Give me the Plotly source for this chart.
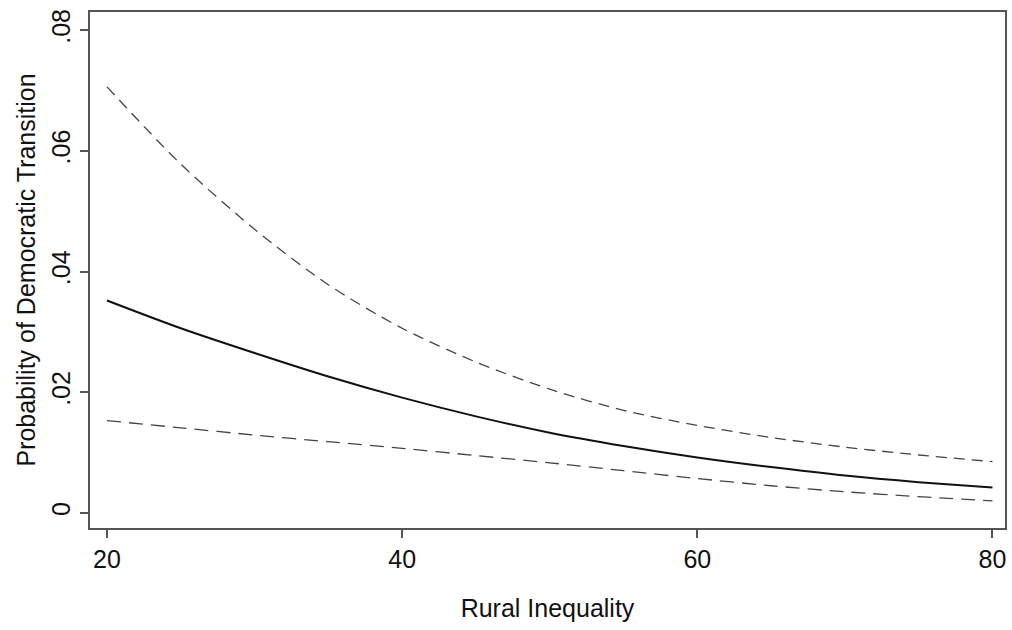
import plotly.graph_objects as go

x_vals = [20, 25, 30, 35, 40, 45, 50, 55, 60, 65, 70, 75, 80]
mean_vals = [0.0352, 0.0306, 0.0265, 0.0226, 0.0191, 0.0160, 0.0133, 0.0111, 0.0092, 0.0076, 0.0062, 0.0051, 0.0042]
upper_vals = [0.0706, 0.0578, 0.0470, 0.0378, 0.0306, 0.0250, 0.0205, 0.0170, 0.0145, 0.0125, 0.0109, 0.0096, 0.0085]
lower_vals = [0.0153, 0.0141, 0.0129, 0.0118, 0.0107, 0.0095, 0.0083, 0.0070, 0.0057, 0.0045, 0.0035, 0.0027, 0.0020]

x_ticks = [20, 40, 60, 80]
y_ticks = [0, 0.02, 0.04, 0.06, 0.08]
y_ticktext = ["0", ".02", ".04", ".06", ".08"]

fig = go.Figure()
fig.add_trace(go.Scatter(x=x_vals, y=upper_vals, mode="lines",
                         line=dict(color="#444444", width=1.3, dash="11px,7px", shape="spline", smoothing=0.8),
                         showlegend=False))
fig.add_trace(go.Scatter(x=x_vals, y=lower_vals, mode="lines",
                         line=dict(color="#444444", width=1.3, dash="14px,8px", shape="spline", smoothing=0.8),
                         showlegend=False))
fig.add_trace(go.Scatter(x=x_vals, y=mean_vals, mode="lines",
                         line=dict(color="#111111", width=2, shape="spline", smoothing=0.8),
                         showlegend=False))

font_family = "Liberation Sans, Arial, sans-serif"
fig.update_layout(
    width=1012, height=630,
    margin=dict(l=90, r=5, t=12, b=102),
    paper_bgcolor="white", plot_bgcolor="white",
    font=dict(family=font_family, size=25, color="#111111"),
    xaxis=dict(
        range=[18.85, 80.85], tickvals=x_ticks, ticks="outside", ticklen=8,
        tickwidth=1.5, tickcolor="#555555",
        showline=True, linecolor="#555555", linewidth=2, mirror=True,
        showgrid=False, zeroline=False,
        title=dict(text="Rural Inequality", standoff=27, font=dict(size=25)),
        tickfont=dict(size=25),
    ),
    yaxis=dict(
        range=[-0.0025, 0.083], tickvals=y_ticks, ticktext=y_ticktext,
        ticks="outside", ticklen=8, tickwidth=1.5, tickcolor="#555555",
        tickangle=-90,
        showline=True, linecolor="#555555", linewidth=2, mirror=True,
        showgrid=False, zeroline=False,
        title=dict(text="Probability of Democratic Transition", standoff=4, font=dict(size=25)),
        tickfont=dict(size=25),
    ),
)

fig.write_html("out.html")
